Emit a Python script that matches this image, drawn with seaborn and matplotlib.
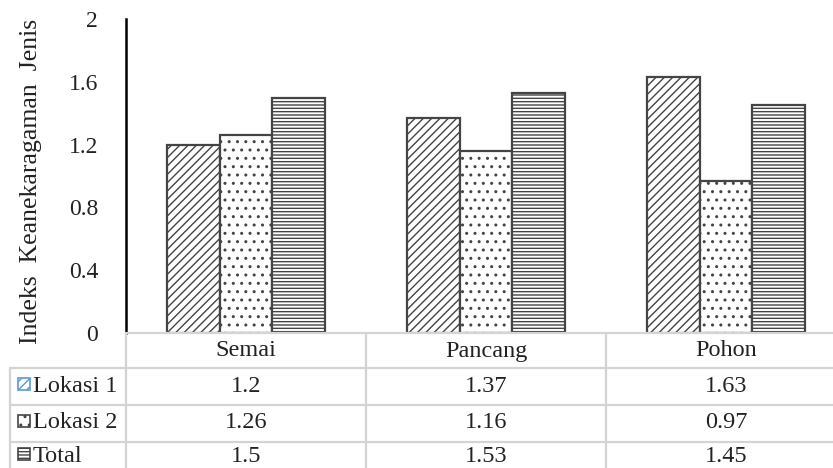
import matplotlib
matplotlib.use("Agg")
import matplotlib.pyplot as plt
import matplotlib.transforms as mtrans
from matplotlib.lines import Line2D
from matplotlib.patches import Rectangle
import seaborn as sns
import pandas as pd

categories = ["Semai", "Pancang", "Pohon"]
series = ["Lokasi 1", "Lokasi 2", "Total"]
lokasi1 = [1.2, 1.37, 1.63]
lokasi2 = [1.26, 1.16, 0.97]
total = [1.5, 1.53, 1.45]
value_labels = {
    "Lokasi 1": ["1.2", "1.37", "1.63"],
    "Lokasi 2": ["1.26", "1.16", "0.97"],
    "Total": ["1.5", "1.53", "1.45"],
}
yticks = [0, 0.4, 0.8, 1.2, 1.6, 2]
ytick_labels = ["0", "0.4", "0.8", "1.2", "1.6", "2"]
ylabel = "Indeks  Keanekaragaman  Jenis"

hatches = ["////", "..", "-----"]

sns.set_style("white")
plt.rcParams["font.family"] = ["Liberation Serif", "DejaVu Serif"]
plt.rcParams["hatch.linewidth"] = 1.0

df = pd.DataFrame({
    "cat": categories * 3,
    "series": [s for s in series for _ in categories],
    "val": lokasi1 + lokasi2 + total,
})

W, H = 833, 468
fig = plt.figure(figsize=(W / 100, H / 100), dpi=100)
ax = fig.add_axes([126 / W, (H - 333) / H, 720 / W, 314 / H])

sns.barplot(data=df, x="cat", y="val", hue="series", order=categories,
            hue_order=series, palette=["white"] * 3, width=0.66, gap=0,
            edgecolor="#444444", linewidth=1.6, legend=False, ax=ax,
            saturation=1)
for cont, h in zip(ax.containers, hatches):
    for p in cont:
        p.set_hatch(h)

ax.set_xlim(-0.5, 2.5)
ax.set_ylim(0, 2)
ax.set_yticks(yticks)
ax.set_yticklabels(ytick_labels, fontsize=17, color="#222222")
ax.tick_params(axis="y", length=0, pad=20)
ax.set_xticks([])
ax.set_xlabel("")
ax.set_ylabel("")
for s in ["top", "right", "bottom"]:
    ax.spines[s].set_visible(False)
ax.spines["left"].set_color("black")
ax.spines["left"].set_linewidth(1.8)

fig.text(31 / W, 1 - 181 / H, ylabel, rotation=90, ha="center", va="center",
         fontsize=18.5, color="#222222")

# data table
def fy(py):
    return 1 - py / H

blend = mtrans.blended_transform_factory(ax.transData, fig.transFigure)
grid = dict(color="#d4d4d4", lw=1.6, clip_on=False)

# horizontal lines
fig.add_artist(Line2D([126 / W, 1], [fy(333), fy(333)], transform=fig.transFigure, **grid))
for py in [368, 405, 442]:
    fig.add_artist(Line2D([10 / W, 1], [fy(py), fy(py)], transform=fig.transFigure, **grid))
# vertical lines
fig.add_artist(Line2D([10 / W, 10 / W], [fy(368), 0], transform=fig.transFigure, **grid))
for xd in [-0.5, 0.5, 1.5]:
    fig.add_artist(Line2D([xd, xd], [fy(333), 0], transform=blend, **grid))

fs = 17.5
for i, c in enumerate(categories):
    fig.text(i, fy(351), c, transform=blend, ha="center", va="center", fontsize=fs, color="#222222")

row_centers = [386, 423, 456]
for r, s in enumerate(series):
    yc = fy(row_centers[r])
    for i, v in enumerate(value_labels[s]):
        fig.text(i, yc, v, transform=blend, ha="center", va="center", fontsize=fs, color="#222222")
    fig.text(33 / W, yc, s, ha="left", va="center", fontsize=fs, color="#222222")
    ec = "#5b9bd5" if r == 0 else "#444444"
    key = Rectangle((18 / W, yc - 4 / H), 12 / W, 12 / H, transform=fig.transFigure,
                    facecolor="white", edgecolor=ec, hatch=hatches[r], lw=1.2)
    fig.add_artist(key)

fig.savefig("out.png", dpi=100)
